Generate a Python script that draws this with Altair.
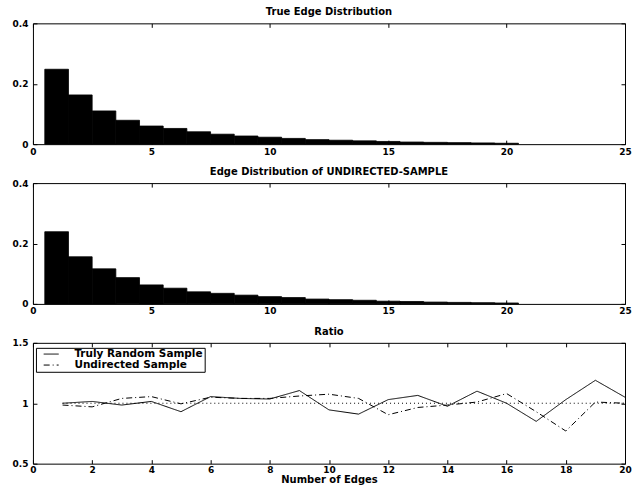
import altair as alt
import pandas as pd

edges = list(range(1, 21))
true_dist = [0.248, 0.163, 0.110, 0.079, 0.060, 0.052, 0.041, 0.033, 0.027, 0.023,
             0.019, 0.015, 0.013, 0.011, 0.009, 0.007, 0.006, 0.005, 0.004, 0.003]
undirected_dist = [0.239, 0.156, 0.116, 0.087, 0.063, 0.052, 0.040, 0.035, 0.029, 0.024,
                   0.021, 0.016, 0.014, 0.012, 0.009, 0.008, 0.006, 0.005, 0.004, 0.003]
ratio_random = [1.00, 1.015, 0.985, 1.015, 0.93, 1.055, 1.04, 1.035, 1.105, 0.945,
                0.91, 1.03, 1.065, 0.975, 1.10, 1.00, 0.85, 1.03, 1.19, 1.05]
ratio_undirected = [0.985, 0.97, 1.04, 1.055, 0.995, 1.05, 1.04, 1.04, 1.06, 1.075,
                    1.04, 0.905, 0.965, 0.985, 1.01, 1.08, 0.93, 0.77, 1.01, 1.00]
series_names = ["Truly Random Sample", "Undirected Sample"]
hist_x_ticks = [0, 5, 10, 15, 20, 25]
hist_y_ticks = [0, 0.2, 0.4]
ratio_x_ticks = list(range(0, 21, 2))
ratio_y_ticks = [0.5, 1, 1.5]
ref_x = [1, 20]
ref_y = [1, 1]

FONT = "DejaVu Sans"
FS = 9
TFS = 10
W = 593
H = 121


def ax(values, orient, labels=True, pad=3, title=None):
    kw = dict(values=values, orient=orient, offset=-4, tickSize=4, tickColor="black",
              tickWidth=1, domain=False, grid=False, labels=labels, labelPadding=pad,
              labelFlush=False, labelOverlap=False,
              labelFont=FONT, labelFontSize=FS, labelFontWeight="bold",
              labelColor="black", format="~g")
    if title is not None:
        kw.update(title=title, titleFont=FONT, titleFontSize=TFS, titleFontWeight="bold",
                  titleColor="black", titlePadding=0)
    else:
        kw.update(title=None)
    return alt.Axis(**kw)


def frame(df, xf, yf, xs, ys, xt, yt):
    return alt.Chart(df).mark_point(opacity=0).encode(
        x=alt.X(xf, scale=xs, axis=ax(xt, "top", labels=False)),
        y=alt.Y(yf, scale=ys, axis=ax(yt, "right", labels=False)),
    )


def panel_title(text):
    return alt.TitleParams(text, font=FONT, fontSize=TFS, fontWeight="bold",
                           color="black", offset=2, anchor="middle")


def hist_panel(values, title):
    df = pd.DataFrame({"lo": [e - 0.5 for e in edges],
                       "hi": [e + 0.5 for e in edges],
                       "v": values})
    xs = alt.Scale(domain=[0, 25], nice=False, zero=False)
    ys = alt.Scale(domain=[0, 0.4], nice=False)
    bars = alt.Chart(df).mark_rect(color="black", stroke="black", strokeWidth=0.8).encode(
        x=alt.X("lo:Q", scale=xs, axis=ax(hist_x_ticks, "bottom", pad=3)),
        x2="hi:Q",
        y=alt.Y("v:Q", scale=ys, axis=ax(hist_y_ticks, "left", pad=5)),
        y2=alt.datum(0),
    )
    fr = frame(df, "lo:Q", "v:Q", xs, ys, hist_x_ticks, hist_y_ticks)
    return alt.layer(bars, fr).properties(width=W, height=H, title=panel_title(title))


top = hist_panel(true_dist, "True Edge Distribution")
mid = hist_panel(undirected_dist, "Edge Distribution of UNDIRECTED-SAMPLE")

rows = []
for name, vals in zip(series_names, [ratio_random, ratio_undirected]):
    for e, v in zip(edges, vals):
        rows.append({"edge": e, "ratio": v, "series": name})
ratio_df = pd.DataFrame(rows)
ref_df = pd.DataFrame({"edge": ref_x, "ratio": ref_y})

rxs = alt.Scale(domain=[0, 20], nice=False, zero=False)
rys = alt.Scale(domain=[0.5, 1.5], nice=False, zero=False)

lines = alt.Chart(ratio_df).mark_line(color="black", strokeWidth=1).encode(
    x=alt.X("edge:Q", scale=rxs, axis=ax(ratio_x_ticks, "bottom", pad=2, title="Number of Edges")),
    y=alt.Y("ratio:Q", scale=rys, axis=ax(ratio_y_ticks, "left", pad=5)),
    strokeDash=alt.StrokeDash(
        "series:N",
        scale=alt.Scale(domain=series_names, range=[[1, 0], [6, 3, 1, 3]]),
        legend=alt.Legend(title=None, orient="none", legendX=3, legendY=5,
                          symbolType="M-2.5,0L2.5,0", symbolSize=36, symbolStrokeWidth=1,
                          symbolStrokeColor="black", symbolOffset=9,
                          labelFont=FONT, labelFontSize=10.5, labelFontWeight="bold",
                          labelColor="black", strokeColor="black", fillColor="white",
                          padding=1, rowPadding=-1, labelOffset=18),
    ),
)
ref = alt.Chart(ref_df).mark_line(color="black", strokeWidth=1, strokeDash=[1, 3]).encode(
    x=alt.X("edge:Q", scale=rxs, axis=None),
    y=alt.Y("ratio:Q", scale=rys, axis=None),
)
rfr = frame(ratio_df, "edge:Q", "ratio:Q", rxs, rys, ratio_x_ticks, ratio_y_ticks)
bottom = alt.layer(lines, ref, rfr).properties(width=W, height=H, title=panel_title("Ratio"))

chart = alt.vconcat(top, mid, bottom, spacing=9).resolve_legend(
    strokeDash="independent"
).properties(
    padding={"left": 11, "top": 6, "right": 1, "bottom": 0},
    background="white",
).configure_view(stroke="black", strokeWidth=1).configure_axis(grid=False)

chart.save("out.html", embed_options={"renderer": "svg", "actions": False})
